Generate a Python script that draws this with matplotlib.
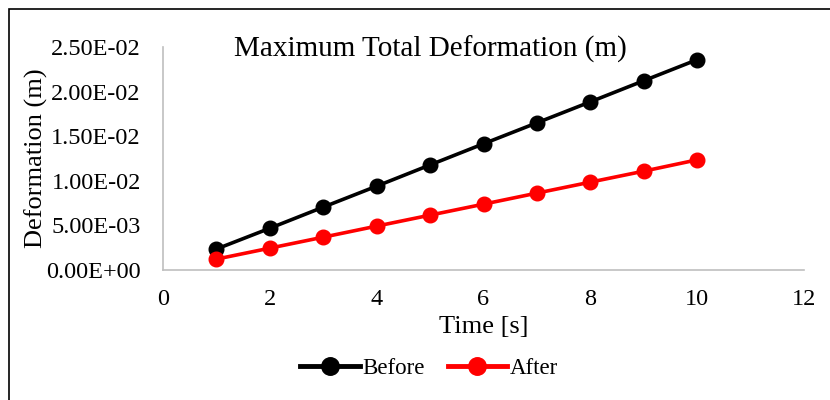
import numpy as np
import matplotlib.pyplot as plt
from matplotlib.patches import Rectangle
from matplotlib.ticker import FuncFormatter

time = [1, 2, 3, 4, 5, 6, 7, 8, 9, 10]
before = [0.00235, 0.00468, 0.00705, 0.00940, 0.01178, 0.01415, 0.01650, 0.01885, 0.02122, 0.02358]
after = [0.00122, 0.00245, 0.00368, 0.00492, 0.00615, 0.00738, 0.00862, 0.00985, 0.01108, 0.01235]
x_ticks = [0, 2, 4, 6, 8, 10, 12]
y_ticks = [0, 0.005, 0.01, 0.015, 0.02, 0.025]

plt.rcParams['font.family'] = ['Liberation Serif', 'DejaVu Serif']

fig = plt.figure(figsize=(8.3, 4.0), dpi=100)
ax = fig.add_axes([163/830, 1 - 270/400, (804 - 163)/830, (270 - 47)/400])

ax.plot(time, before, color='black', lw=2.6, marker='o', ms=10.5, label='Before')
ax.plot(time, after, color='#ff0000', lw=2.6, marker='o', ms=10.5, label='After')

ax.set_xlim(0, 12)
ax.set_ylim(0, 0.025)
ax.set_xticks(x_ticks)
ax.set_yticks(y_ticks)

def sci(v, pos):
    return '%.2E' % v
ax.yaxis.set_major_formatter(FuncFormatter(sci))
ax.tick_params(length=0, labelsize=17.5)
ax.tick_params(axis='y', pad=16)
ax.tick_params(axis='x', pad=14)

for side in ['top', 'right']:
    ax.spines[side].set_visible(False)
for side in ['left', 'bottom']:
    ax.spines[side].set_color('#bfbfbf')
    ax.spines[side].set_linewidth(1.2)

ax.set_xlabel('Time [s]', fontsize=19, labelpad=4)
ax.set_ylabel('Deformation (m)', fontsize=19, labelpad=-1)
ax.text(0.417, 0.99, 'Maximum Total Deformation (m)', transform=ax.transAxes,
        fontsize=21, ha='center', va='center')

leg = ax.legend(loc='center', bbox_to_anchor=(0.415, -0.44), ncol=2, frameon=False,
                fontsize=16.5, handlelength=2.6, handletextpad=0.1, columnspacing=1.0,
                markerscale=1.2)
for h in leg.get_lines():
    h.set_linewidth(3.5)

fig.patches.append(Rectangle((9/830, -0.05), 1.1, 1 - 9/400 + 0.05, transform=fig.transFigure,
                             fill=False, edgecolor='black', lw=1.2))

plt.savefig('out.png', dpi=100)
